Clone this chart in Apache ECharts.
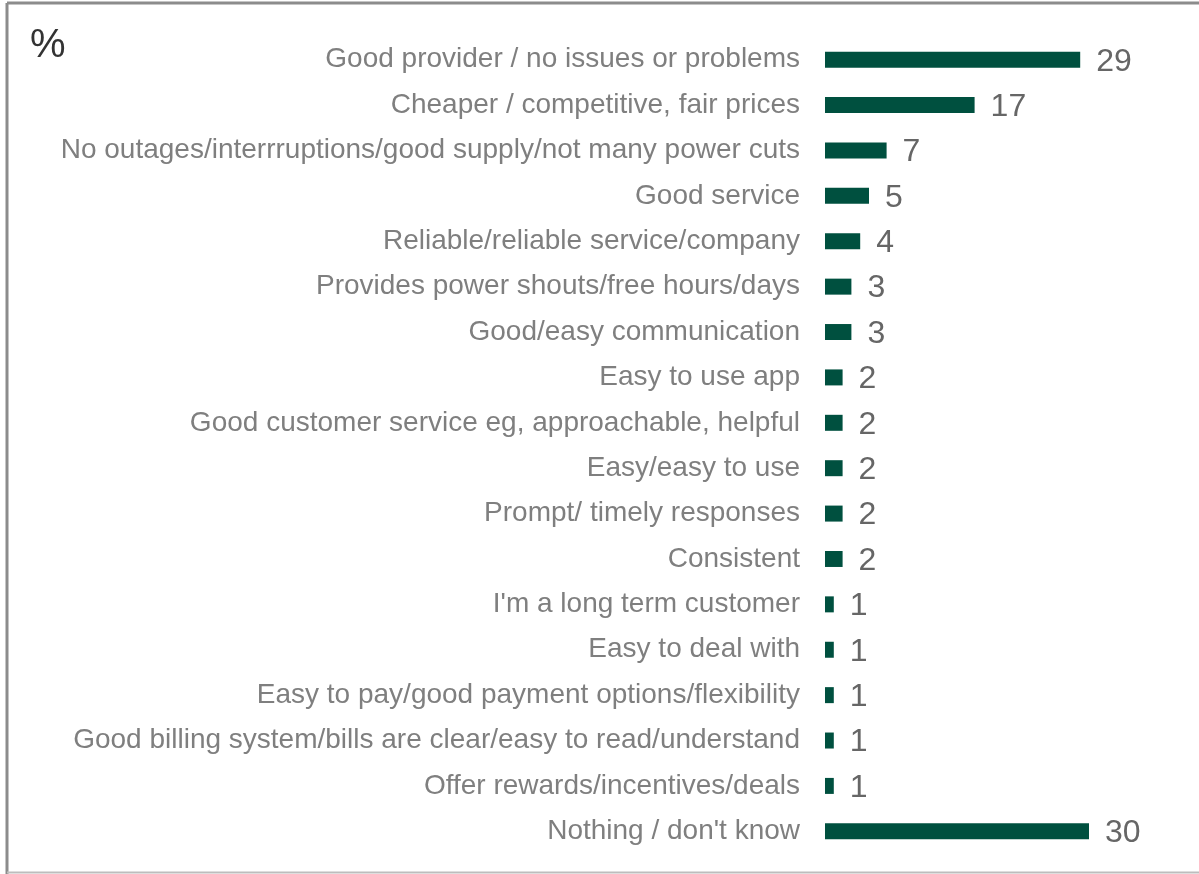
<!DOCTYPE html>
<html>
<head>
<meta charset="utf-8">
<script src="https://cdn.jsdelivr.net/npm/echarts@6/dist/echarts.min.js"></script>
<style>
  html, body { margin: 0; padding: 0; background: #fff; }
  #chart { width: 1199px; height: 874px; }
</style>
</head>
<body>
<div id="chart"></div>
<script>
// 类别（从上到下）
const categories = [
  'Good provider / no issues or problems',
  'Cheaper / competitive, fair prices',
  'No outages/interrruptions/good supply/not many power cuts',
  'Good service',
  'Reliable/reliable service/company',
  'Provides power shouts/free hours/days',
  'Good/easy communication',
  'Easy to use app',
  'Good customer service eg, approachable, helpful',
  'Easy/easy to use',
  'Prompt/ timely responses',
  'Consistent',
  "I'm a long term customer",
  'Easy to deal with',
  'Easy to pay/good payment options/flexibility',
  'Good billing system/bills are clear/easy to read/understand',
  'Offer rewards/incentives/deals',
  "Nothing / don't know"
]

// 百分比数值
const values = [29, 17, 7, 5, 4, 3, 3, 2, 2, 2, 2, 2, 1, 1, 1, 1, 1, 30]

const chart = echarts.init(document.getElementById('chart'))

const option = {
  animation: false,
  title: {
    text: '%',
    left: 25,
    top: 21,
    textStyle: {
      fontFamily: 'Liberation Sans, Arial, sans-serif',
      fontSize: 40,
      fontWeight: 'normal',
      color: '#333'
    }
  },
  // 外框
  graphic: [
    { type: 'line', shape: { x1: 7, y1: 3, x2: 1199, y2: 3 }, style: { stroke: '#8c8c8c', lineWidth: 3 } },
    { type: 'line', shape: { x1: 7, y1: 3, x2: 7, y2: 874 }, style: { stroke: '#8c8c8c', lineWidth: 3 } },
    { type: 'line', shape: { x1: 7, y1: 872.5, x2: 1199, y2: 872.5 }, style: { stroke: '#bdbdbd', lineWidth: 2 } }
  ],
  grid: {
    left: 825,
    right: 110,
    top: 37,
    bottom: 20,
    containLabel: false
  },
  xAxis: {
    type: 'value',
    min: 0,
    max: 30,
    show: false
  },
  yAxis: {
    type: 'category',
    inverse: true,
    data: categories,
    axisLine: { show: false },
    axisTick: { show: false },
    axisLabel: {
      margin: 25,
      padding: [2, 0, 0, 0],
      fontFamily: 'Liberation Sans, Arial, sans-serif',
      fontSize: 28,
      color: '#7f7f7f'
    }
  },
  series: [{
    type: 'bar',
    data: values,
    barWidth: 16,
    itemStyle: { color: '#00503f' },
    label: {
      show: true,
      position: 'right',
      distance: 16,
      offset: [0, 2],
      fontFamily: 'Liberation Sans, Arial, sans-serif',
      fontSize: 32,
      color: '#666'
    }
  }]
}

chart.setOption(option)
</script>
</body>
</html>
